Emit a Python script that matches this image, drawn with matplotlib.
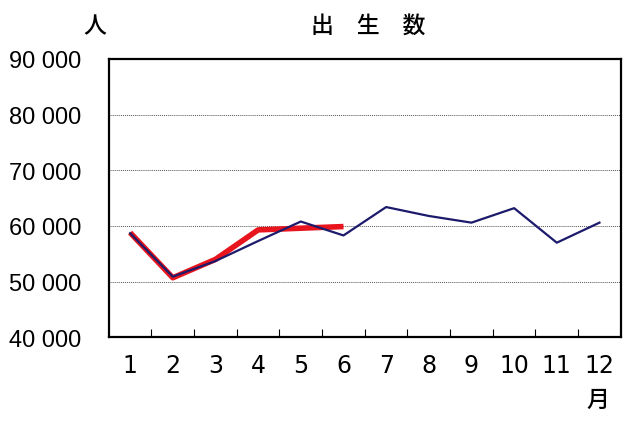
import matplotlib
matplotlib.use("Agg")
import matplotlib.pyplot as plt

# data
months = [1, 2, 3, 4, 5, 6, 7, 8, 9, 10, 11, 12]
prev_year = [58700, 50900, 53700, 57300, 60800, 58300, 63400, 61800, 60600, 63200, 57000, 60600]
cur_months = [1, 2, 3, 4, 5, 6]
cur_year = [58800, 50700, 54000, 59300, 59600, 59900]
y_ticks = [40000, 50000, 60000, 70000, 80000, 90000]

cjk = ["Noto Sans CJK JP", "DejaVu Sans"]
num_font = ["Liberation Sans", "Arial", "DejaVu Sans"]
narrow_font = ["Liberation Sans Narrow", "DejaVu Sans Condensed", "DejaVu Sans"]

fig = plt.figure(figsize=(6.4, 4.27), dpi=100)
ax = fig.add_axes([0.170, 0.2077, 0.800, 0.6518])

ax.plot(cur_months, cur_year, color="#e8141e", linewidth=4.0, solid_capstyle="butt", zorder=3)
ax.plot(months, prev_year, color="#1c1a6b", linewidth=1.6, zorder=4)

ax.set_xlim(0.5, 12.5)
ax.set_ylim(40000, 90000)

# dotted horizontal gridlines
for v in y_ticks[1:-1]:
    ax.axhline(v, color="#555555", linewidth=0.7, linestyle=(0, (1, 1)), zorder=1)

ax.set_yticks(y_ticks)
ax.set_yticklabels([f"{v:,}".replace(",", " ") for v in y_ticks],
                   fontfamily=num_font, fontsize=17)
ax.tick_params(axis="y", length=0, pad=20)

ax.set_xticks(months)
ax.set_xticklabels([str(m) for m in months], fontfamily=narrow_font, fontsize=17)
ax.tick_params(axis="x", which="major", length=0, pad=11)
ax.set_xticks([m + 0.5 for m in months[:-1]], minor=True)
ax.tick_params(axis="x", which="minor", direction="in", length=6, width=0.8)

for s in ax.spines.values():
    s.set_linewidth(1.6)
    s.set_color("black")

fig.text(368 / 640, 1 - 26.5 / 427, "出\u3000生\u3000数", family=cjk, fontsize=16.5,
         weight="medium", ha="center", va="center")
fig.text(95 / 640, 1 - 27 / 427, "人", family=cjk, fontsize=16.5, weight="medium",
         ha="center", va="center")
fig.text(598 / 640, 1 - 400 / 427, "月", family=cjk, fontsize=16.5, weight="medium",
         ha="center", va="center")

fig.savefig("out.png", dpi=100)
